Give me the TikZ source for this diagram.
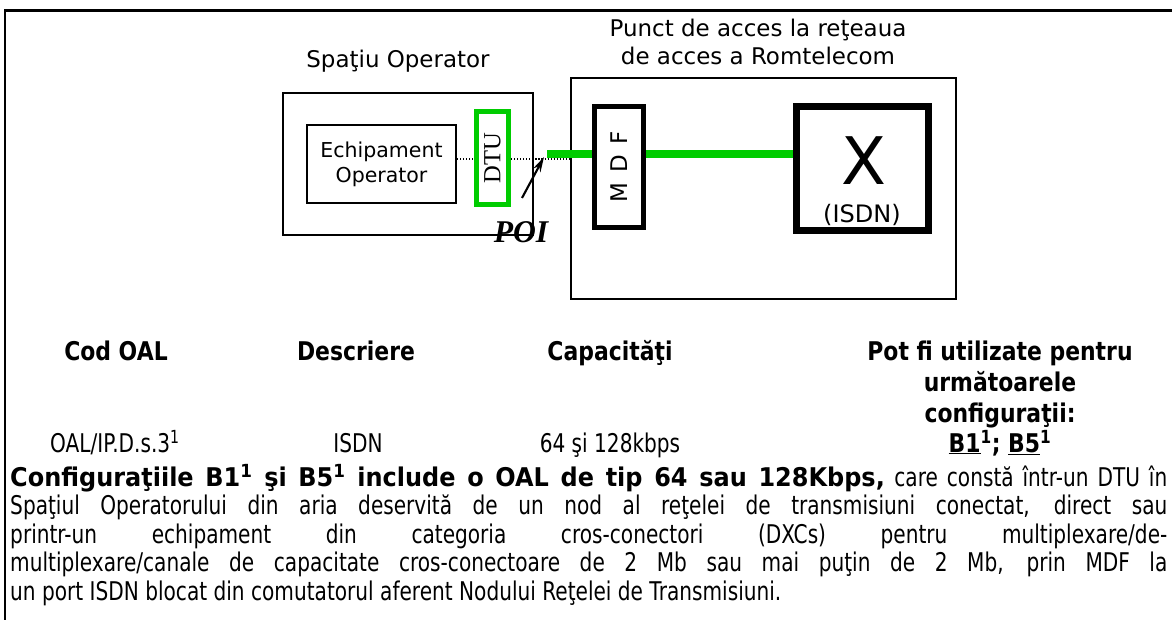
\documentclass[tikz,border=0pt]{standalone}
\usepackage{fontspec}
\setmainfont{DejaVu Sans}
\newfontfamily\docfont{DejaVu Sans}[FakeStretch=0.78]
\newfontfamily\docbold{DejaVu Sans}[FakeStretch=0.93]
\newfontfamily\headfont{DejaVu Sans}[FakeStretch=0.85]
\newfontfamily\timesfont{Liberation Serif}
\usetikzlibrary{arrows.meta}
\definecolor{linkgreen}{RGB}{0,204,0}

\begin{document}
\begin{tikzpicture}[x=0.03cm,y=-0.03cm,
    thinbox/.style={draw,line width=1.7pt,inner sep=0pt},
    greenbox/.style={draw=linkgreen,line width=4.3pt,inner sep=0pt},
    heavybox/.style={draw,line width=4.3pt,inner sep=0pt},
    greenlink/.style={draw=linkgreen,line width=6pt},
    dotlink/.style={line width=0.9pt,dash pattern=on 1pt off 1.6pt},
    label/.style={font=\fontsize{19.6}{23.9}\selectfont,anchor=base,inner sep=0pt},
    tabhead/.style={font=\headfont\bfseries\fontsize{22}{28}\selectfont,anchor=base,inner sep=0pt},
    tabcell/.style={font=\docfont\fontsize{22}{28}\selectfont,anchor=base,inner sep=0pt},
    paraline/.style={font=\docfont\fontsize{22}{25.6}\selectfont,anchor=base west,inner sep=0pt}]
    \useasboundingbox (0,0) rectangle (1172,620);
    \draw[line width=2pt] (5,620) -- (5,10.5) -- (1172,10.5);

    % diagram
    \node[label] (opTitle) at (398,68) {Spaţiu Operator};
    \node[label] (romTitleA) at (758,37) {Punct de acces la reţeaua};
    \node[label] (romTitleB) at (758,65) {de acces a Romtelecom};

    \node[thinbox,minimum width=7.5cm,minimum height=4.26cm] (opBox) at (408,164) {};
    \node[thinbox,minimum width=4.47cm,minimum height=2.34cm,align=center,
        font=\fontsize{17.5}{21.3}\selectfont] (echip) at (381.5,164) {Echipament\\Operator};
    \node[greenbox,minimum width=0.96cm,minimum height=2.79cm,
        font=\timesfont\fontsize{21}{22}\selectfont] (dtu) at (492.5,158) {\rotatebox{90}{DTU}};

    \node[thinbox,minimum width=11.55cm,minimum height=6.63cm] (romBox) at (763.5,188.5) {};
    \node[heavybox,minimum width=1.47cm,minimum height=3.63cm,
        font=\fontsize{19.6}{23}\selectfont] (mdf) at (619,167) {\rotatebox{90}{M\hspace{0.45em}D\hspace{0.45em}F}};
    \node[heavybox,line width=6pt,minimum width=3.96cm,minimum height=3.72cm] (xBox) at (862.5,168.5) {};
    \node[font=\fontsize{56}{60}\selectfont,anchor=base,inner sep=0pt] (xMark) at (863.5,185) {X};
    \node[font=\fontsize{20.5}{24}\selectfont,anchor=base,inner sep=0pt] (isdnMark) at (862,222) {(ISDN)};

    \coordinate (dotLevel) at (0,159);
    \coordinate (poi) at (547,154);
    \draw[dotlink] (echip.east |- dotLevel) -- (dtu.west |- dotLevel);
    \draw[dotlink] (dtu.east |- dotLevel) -- (romBox.west |- dotLevel);
    \draw[greenlink] (poi) -- (poi -| mdf.west);
    \draw[greenlink] (mdf.east |- poi) -- (poi -| xBox.west);

    \coordinate (poiTail) at (522,198);
    \coordinate (poiHead) at (544,157);
    \draw[line width=1.8pt,-{Stealth[length=13pt,width=7pt]}] (poiTail) -- (poiHead);
    \node[font=\timesfont\bfseries\itshape\fontsize{27}{30}\selectfont,anchor=base,inner sep=0pt]
        (poiLabel) at (521,242) {POI};

    % table
    \node[tabhead] (hCode) at (116,360) {Cod OAL};
    \node[tabhead] (hDesc) at (356,360) {Descriere};
    \node[tabhead] (hCap) at (610,360) {Capacităţi};
    \node[tabhead] (hUseA) at (1000,360) {Pot fi utilizate pentru};
    \node[tabhead] (hUseB) at (1000,391) {următoarele};
    \node[tabhead] (hUseC) at (1000,422) {configuraţii:};

    \node[tabcell] (rCode) at (115,452) {OAL/IP.D.s.3\textsuperscript{1}};
    \node[tabcell] (rDesc) at (358,452) {ISDN};
    \node[tabcell] (rCap) at (610,452) {64 şi 128kbps};
    \node[tabhead] (rUse) at (1000,452) {\underline{B1}\textsuperscript{1}; \underline{B5}\textsuperscript{1}};

    % paragraph
    \node[paraline] (paraA) at (10,486) {\makebox[34.71cm][s]{{\docbold\bfseries Configuraţiile B1\textsuperscript{1} şi B5\textsuperscript{1} include o OAL de tip 64 sau 128Kbps,} care constă într-un DTU în}};
    \node[paraline] (paraB) at (10,514.5) {\makebox[34.71cm][s]{Spaţiul Operatorului din aria deservită de un nod al reţelei de transmisiuni conectat, direct sau}};
    \node[paraline] (paraC) at (10,543) {\makebox[34.71cm][s]{printr-un echipament din categoria cros-conectori (DXCs) pentru multiplexare/de-}};
    \node[paraline] (paraD) at (10,571.5) {\makebox[34.71cm][s]{multiplexare/canale de capacitate cros-conectoare de 2 Mb sau mai puţin de 2 Mb, prin MDF la}};
    \node[paraline] (paraE) at (10,600) {un port ISDN blocat din comutatorul aferent Nodului Reţelei de Transmisiuni.};
\end{tikzpicture}
\end{document}
